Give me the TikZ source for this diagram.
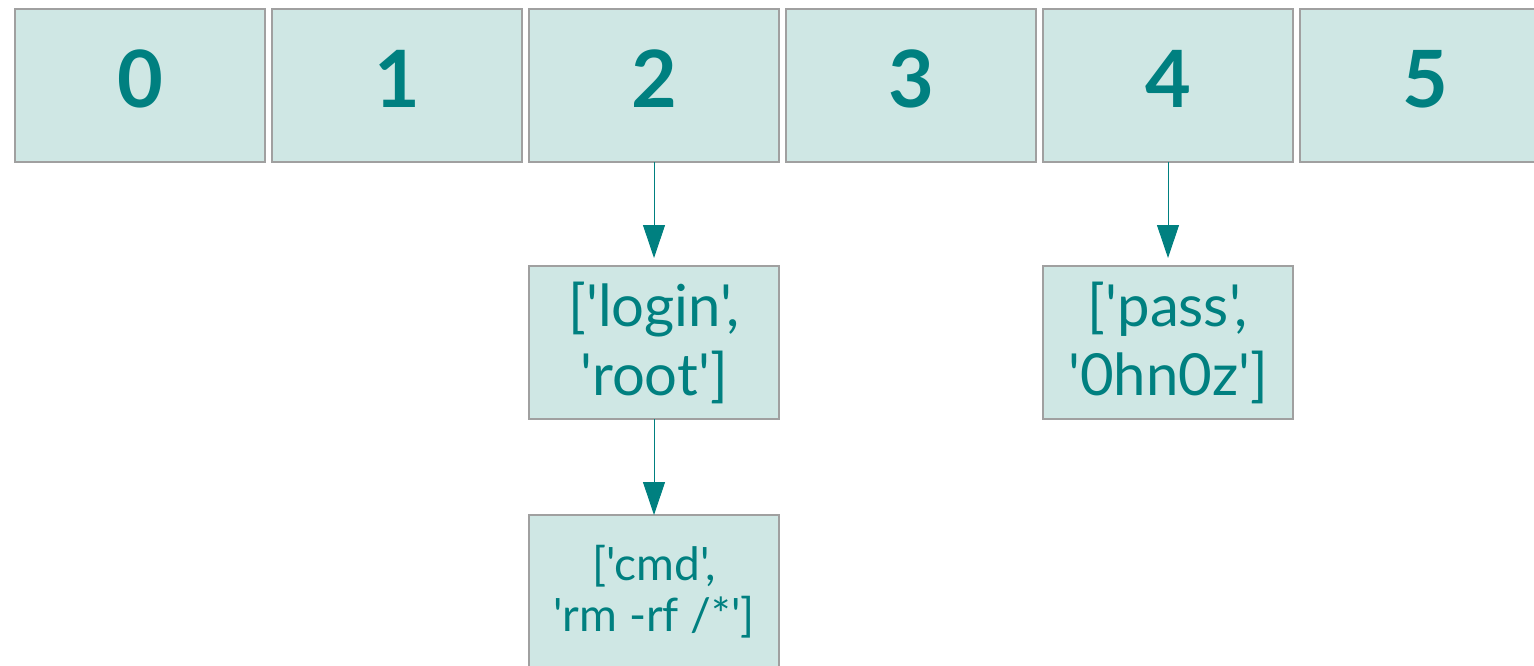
\documentclass[tikz,border=0pt]{standalone}
\usepackage{fontspec}
\setmainfont{Lato}[Ligatures=TeXOff]
\usetikzlibrary{arrows.meta,positioning}

\definecolor{cellfill}{RGB}{207,231,228}
\definecolor{cellline}{RGB}{160,160,160}
\definecolor{tealtext}{RGB}{0,128,128}

\begin{document}
\begin{tikzpicture}[x=1pt,y=1pt,yscale=-1,
  cell/.style = {draw=cellline, line width=1.2pt, fill=cellfill,
  minimum width=250pt, minimum height=153pt, inner sep=0pt, outer sep=0pt,
  text=tealtext, align=center},
  slot/.style = {cell, font=\fontsize{79}{80}\selectfont\bfseries,
  text height=57pt, text depth=13pt},
  entry/.style = {cell, font=\fontsize{58}{69}\selectfont},
  smallentry/.style = {cell, font=\fontsize{46}{51}\selectfont},
  link/.style = {->, draw=tealtext, line width=1pt},
  node distance=7pt,
  >={Triangle[length=33pt,width=22pt]}
  ]

  \useasboundingbox (0,0) rectangle (1534,666);
  \clip (0,0) rectangle (1534,666);

  % the table slots
  \node[slot] (s0) at (140,85.5) {0};
  \node[slot] (s1) [right=of s0] {1};
  \node[slot] (s2) [right=of s1] {2};
  \node[slot] (s3) [right=of s2] {3};
  \node[slot] (s4) [right=of s3] {4};
  \node[slot] (s5) [right=of s4] {5};

  % chained entries
  \node[entry] (e2) [below=104pt of s2] {['login',\\'root']};
  \node[smallentry] (e2b) [below=96pt of e2] {['cmd',\\'rm -rf /*']};
  \node[entry] (e4) [below=104pt of s4] {['pass',\\'0hn0z']};

  \draw[link, shorten >=8pt] (s2) -- (e2);
  \draw[link] (e2) -- (e2b);
  \draw[link, shorten >=8pt] (s4) -- (e4);

\end{tikzpicture}
\end{document}
